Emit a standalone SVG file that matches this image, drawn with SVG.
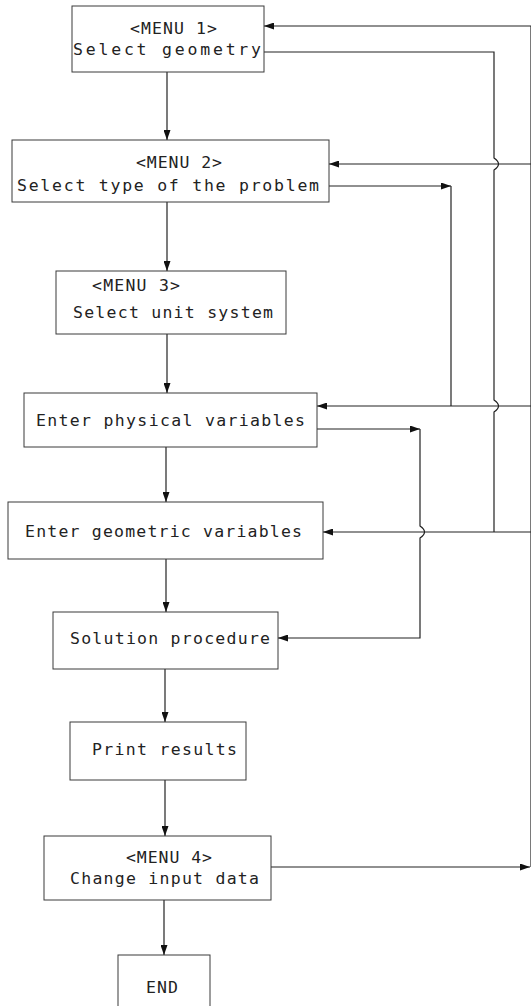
<svg xmlns="http://www.w3.org/2000/svg" width="531" height="1006" viewBox="0 0 531 1006">
<style>
.box{fill:#fff;stroke:#3a3a3a;stroke-width:1}
.t{font-family:"DejaVu Sans Mono","Liberation Mono",monospace;font-size:16.5px;fill:#222}
.c{fill:none;stroke:#222;stroke-width:1.2}
</style>
<defs>
<marker id="ah" markerUnits="userSpaceOnUse" markerWidth="10" markerHeight="7" refX="10" refY="3.5" orient="auto">
<path d="M0,0 L10,3.5 L0,7 z" fill="#111"/>
</marker>
</defs>
<rect width="531" height="1006" fill="#fff"/>
<g id="connectors">
<line class="c" x1="167" y1="72" x2="167" y2="140" marker-end="url(#ah)"/>
<line class="c" x1="167" y1="202" x2="167" y2="271" marker-end="url(#ah)"/>
<line class="c" x1="167" y1="334" x2="167" y2="393" marker-end="url(#ah)"/>
<line class="c" x1="166" y1="447" x2="166" y2="502" marker-end="url(#ah)"/>
<line class="c" x1="166" y1="559" x2="166" y2="612" marker-end="url(#ah)"/>
<line class="c" x1="165" y1="669" x2="165" y2="722" marker-end="url(#ah)"/>
<line class="c" x1="165" y1="780" x2="165" y2="836" marker-end="url(#ah)"/>
<line class="c" x1="164" y1="900" x2="164" y2="955" marker-end="url(#ah)"/>
<line class="c" x1="271" y1="867" x2="530" y2="867" marker-end="url(#ah)"/>
<line class="c" x1="531" y1="26" x2="531" y2="867"/>
<line class="c" x1="531" y1="26" x2="264" y2="26" marker-end="url(#ah)"/>
<line class="c" x1="531" y1="164" x2="329" y2="164" marker-end="url(#ah)"/>
<line class="c" x1="531" y1="406" x2="317" y2="406" marker-end="url(#ah)"/>
<line class="c" x1="531" y1="532" x2="323" y2="532" marker-end="url(#ah)"/>
<path class="c" d="M264,52 H494 V158 Q503,164 494,170 V400 Q503,406 494,412 V532"/>
<line class="c" x1="329" y1="186" x2="451" y2="186" marker-end="url(#ah)"/>
<line class="c" x1="451" y1="186" x2="451" y2="406"/>
<line class="c" x1="317" y1="429" x2="420" y2="429" marker-end="url(#ah)"/>
<path class="c" d="M420,429 V526 Q429,532 420,538 V638 H278" marker-end="url(#ah)"/>
</g>
<g id="menu1">
<rect class="box" x="72" y="6" width="192" height="66"/>
<text class="t" x="130" y="34" textLength="87" lengthAdjust="spacing">&lt;MENU 1&gt;</text>
<text class="t" x="73" y="55" textLength="188" lengthAdjust="spacing">Select geometry</text>
</g>
<g id="menu2">
<rect class="box" x="12" y="140" width="317" height="62"/>
<text class="t" x="136" y="168" textLength="86" lengthAdjust="spacing">&lt;MENU 2&gt;</text>
<text class="t" x="17" y="191" textLength="302" lengthAdjust="spacing">Select type of the problem</text>
</g>
<g id="menu3">
<rect class="box" x="56" y="271" width="230" height="63"/>
<text class="t" x="92" y="291" textLength="88" lengthAdjust="spacing">&lt;MENU 3&gt;</text>
<text class="t" x="73" y="318" textLength="200" lengthAdjust="spacing">Select unit system</text>
</g>
<g id="physical">
<rect class="box" x="24" y="393" width="293" height="54"/>
<text class="t" x="36" y="426" textLength="269" lengthAdjust="spacing">Enter physical variables</text>
</g>
<g id="geometric">
<rect class="box" x="8" y="502" width="315" height="57"/>
<text class="t" x="25" y="537" textLength="277" lengthAdjust="spacing">Enter geometric variables</text>
</g>
<g id="solution">
<rect class="box" x="53" y="612" width="225" height="57"/>
<text class="t" x="70" y="644" textLength="200" lengthAdjust="spacing">Solution procedure</text>
</g>
<g id="print">
<rect class="box" x="70" y="722" width="176" height="58"/>
<text class="t" x="92" y="755" textLength="145" lengthAdjust="spacing">Print results</text>
</g>
<g id="menu4">
<rect class="box" x="44" y="836" width="227" height="64"/>
<text class="t" x="126" y="863" textLength="86" lengthAdjust="spacing">&lt;MENU 4&gt;</text>
<text class="t" x="70" y="884" textLength="189" lengthAdjust="spacing">Change input data</text>
</g>
<g id="end">
<rect class="box" x="118" y="955" width="92" height="52"/>
<text class="t" x="146" y="993" textLength="32" lengthAdjust="spacing">END</text>
</g>
</svg>
